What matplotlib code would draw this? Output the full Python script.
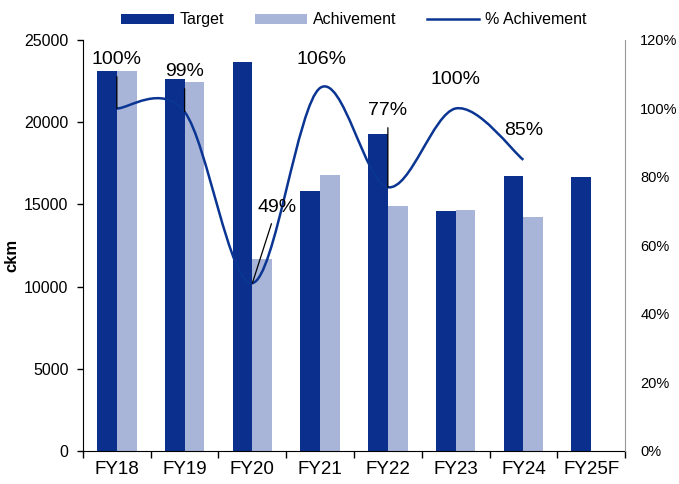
"""
target vs achievement bars with a smoothed % achievement line
"""
import matplotlib
matplotlib.use("Agg")
import matplotlib.pyplot as plt
import numpy as np
from matplotlib.path import Path
from matplotlib.patches import PathPatch
from matplotlib.lines import Line2D
from matplotlib.ticker import FuncFormatter, FixedLocator

plt.rcParams["font.family"] = ["Liberation Sans", "DejaVu Sans"]

years = ["FY18", "FY19", "FY20", "FY21", "FY22", "FY23", "FY24", "FY25F"]
target = [23100, 22630, 23660, 15800, 19280, 14600, 16720, 16680]
achievement = [23120, 22450, 11690, 16790, 14900, 14650, 14230, None]
pct_achieved = [100, 99, 49, 106, 77, 100, 85]
pct_labels = ["100%", "99%", "49%", "106%", "77%", "100%", "85%"]

# label placement (x offset in categories, y in %), leader on/off
label_pos = [(0.0, 114.2), (0.0, 110.7), (0.36, 71.2), (0.02, 114.2),
             (0.0, 99.3), (0.0, 108.6), (0.0, 93.7)]
has_leader = [True, True, True, False, True, False, False]

DARK = "#0a2f8c"
LIGHT = "#a8b4d8"
LINE = "#0b3593"


def smooth_path(xs, ys):
    """Catmull-Rom style bezier path through the points (like excel smoothing)"""
    pts = np.column_stack([xs, ys]).astype(float)
    n = len(pts)
    verts = [pts[0]]
    codes = [Path.MOVETO]
    for i in range(n - 1):
        p0 = pts[max(i - 1, 0)]
        p1 = pts[i]
        p2 = pts[i + 1]
        p3 = pts[min(i + 2, n - 1)]
        c1 = p1 + (p2 - p0) / 6.0
        c2 = p2 - (p3 - p1) / 6.0
        verts += [c1, c2, p2]
        codes += [Path.CURVE4] * 3
    return Path(verts, codes)


def main():
    fig = plt.figure(figsize=(6.79, 4.84), dpi=100)
    ax = fig.add_axes([0.1222, 0.0682, 0.7983, 0.8492])

    x = np.arange(len(years))
    width = 0.29
    ax.bar(x - width / 2, target, width, color=DARK, label="Target")
    ach_x = [xi for xi, v in zip(x, achievement) if v is not None]
    ach_v = [v for v in achievement if v is not None]
    ax.bar(np.array(ach_x) + width / 2, ach_v, width, color=LIGHT,
           label="Achivement")

    ax.set_xlim(-0.5, len(years) - 0.5)
    ax.set_ylim(0, 25000)
    ax.set_yticks(np.arange(0, 25001, 5000))
    ax.set_xticks(x)
    ax.set_xticklabels(years, fontsize=13.5)
    ax.xaxis.set_minor_locator(FixedLocator(np.arange(-0.5, len(years), 1.0)))
    ax.tick_params(axis="x", which="major", length=0, pad=7)
    ax.tick_params(axis="x", which="minor", length=5, width=1, direction="out")
    ax.tick_params(axis="y", length=4, width=1, pad=6.5, labelsize=11.5)
    for side in ["top", "right"]:
        ax.spines[side].set_visible(False)
    ax.spines["left"].set_color("black")
    ax.spines["bottom"].set_color("black")
    ax.set_ylabel("ckm", fontsize=12, fontweight="bold")
    ax.yaxis.set_label_coords(-0.118, 0.477)

    ax2 = ax.twinx()
    ax2.set_ylim(0, 120)
    ax2.set_yticks(np.arange(0, 121, 20))
    ax2.yaxis.set_major_formatter(FuncFormatter(lambda v, _: f"{v:.0f}%"))
    ax2.tick_params(axis="y", length=0, pad=11, labelsize=10.5)
    for side in ["top", "left", "bottom"]:
        ax2.spines[side].set_visible(False)
    ax2.spines["right"].set_color("#999999")

    px = x[: len(pct_achieved)]
    path = smooth_path(px, pct_achieved)
    ax2.add_patch(PathPatch(path, facecolor="none", edgecolor=LINE, lw=1.8))

    for i, (lbl, (dx, ly)) in enumerate(zip(pct_labels, label_pos)):
        if has_leader[i]:
            ax2.annotate(lbl, xy=(px[i], pct_achieved[i]), xytext=(px[i] + dx, ly),
                         ha="center", va="center", fontsize=14,
                         arrowprops=dict(arrowstyle="-", color="black", lw=0.9,
                                         shrinkA=4, shrinkB=0))
        else:
            ax2.text(px[i] + dx, ly, lbl, ha="center", va="center", fontsize=14)

    handles, labels = ax.get_legend_handles_labels()
    handles.append(Line2D([0], [0], color=LINE, lw=1.8))
    labels.append("% Achivement")
    ax.legend(handles, labels, loc="center", bbox_to_anchor=(0.5, 1.049),
              ncol=3, frameon=False, fontsize=11.5, handlelength=3.3,
              handleheight=0.6, handletextpad=0.35, columnspacing=1.9)

    fig.savefig("out.png", dpi=100)


if __name__ == "__main__":
    main()
